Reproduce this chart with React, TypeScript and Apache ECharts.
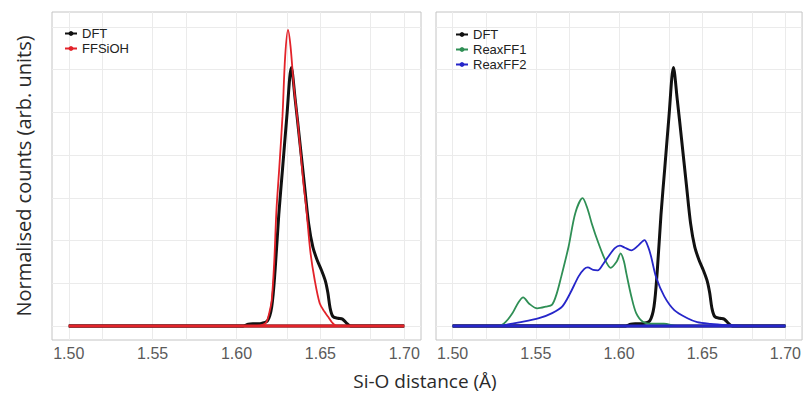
import React, { useEffect, useRef } from 'react';
import * as echarts from 'echarts';

const xTickLabels = [1.5, 1.55, 1.6, 1.65, 1.7];
const xGridLines = [1.5, 1.525, 1.55, 1.575, 1.6, 1.625, 1.65, 1.675, 1.7];
const yGridLines = [0, 1, 2, 3, 4, 5, 6, 7];

const dftData: [number, number][] = [
  [1.5, 0], [1.604, 0], [1.607, 0.04], [1.611, 0.05], [1.615, 0.06], [1.6185, 0.12],
  [1.621, 0.45], [1.623, 1.3], [1.6252, 2.6], [1.6275, 3.7], [1.63, 4.9], [1.6327, 6.05],
  [1.635, 5.3], [1.6375, 4.4], [1.6405, 3.3], [1.643, 2.4], [1.6455, 1.85], [1.648, 1.55],
  [1.6506, 1.31], [1.653, 1.05], [1.6545, 0.77], [1.6558, 0.42], [1.6575, 0.22],
  [1.6605, 0.18], [1.6632, 0.16], [1.6655, 0.07], [1.668, 0], [1.7, 0],
];

const ffsiohData: [number, number][] = [
  [1.5, 0], [1.612, 0], [1.616, 0.03], [1.618, 0.1], [1.6198, 0.35], [1.621, 0.6],
  [1.6225, 1.5], [1.6238, 2.7], [1.6255, 3.7], [1.6274, 4.9], [1.629, 6.3], [1.6307, 6.93],
  [1.6322, 6.55], [1.6342, 5.6], [1.6367, 4.7], [1.6397, 3.42], [1.6416, 2.75], [1.644, 1.75],
  [1.6466, 1.08], [1.6496, 0.53], [1.6525, 0.33], [1.6545, 0.22], [1.657, 0.08],
  [1.6595, 0], [1.7, 0],
];

const reaxff1Data: [number, number][] = [
  [1.5, 0], [1.528, 0], [1.532, 0.1], [1.536, 0.3], [1.5395, 0.55], [1.5424, 0.67],
  [1.546, 0.52], [1.5509, 0.41], [1.556, 0.45], [1.5598, 0.5], [1.5625, 0.75], [1.5648, 1.08],
  [1.5697, 1.86], [1.5737, 2.64], [1.5781, 2.99], [1.581, 2.75], [1.5836, 2.4], [1.5876, 1.94],
  [1.5916, 1.55], [1.595, 1.36], [1.5985, 1.5], [1.601, 1.7], [1.603, 1.5], [1.6044, 1.23],
  [1.6074, 0.69], [1.6103, 0.3], [1.6143, 0.1], [1.62, 0.05], [1.627, 0.05], [1.635, 0],
  [1.7, 0],
];

const reaxff2Data: [number, number][] = [
  [1.5, 0], [1.528, 0], [1.534, 0.04], [1.54, 0.08], [1.5519, 0.18], [1.5598, 0.3],
  [1.5658, 0.45], [1.5707, 0.77], [1.5757, 1.16], [1.579, 1.33], [1.5812, 1.37],
  [1.5845, 1.31], [1.5872, 1.3], [1.5905, 1.45], [1.5935, 1.62], [1.5975, 1.82],
  [1.6005, 1.88], [1.6035, 1.83], [1.6074, 1.77], [1.6115, 1.88], [1.6153, 2.01],
  [1.6175, 1.85], [1.6193, 1.62], [1.6222, 1.15], [1.6272, 0.69], [1.6332, 0.37],
  [1.6411, 0.18], [1.647, 0.09], [1.655, 0.05], [1.665, 0.02], [1.675, 0], [1.7, 0],
];

const COLORS = { dft: '#111111', ffsioh: '#e3232a', reax1: '#2f8f55', reax2: '#2626c9' };

export default function App() {
  const ref = useRef<HTMLDivElement>(null);
  useEffect(() => {
    if (!ref.current) return;
    const chart = echarts.init(ref.current, undefined, { renderer: 'svg' });

    const xAxisBase = (gridIndex: number) => ({
      type: 'value',
      gridIndex,
      min: 1.49,
      max: 1.71,
      axisLine: { show: false },
      axisTick: { show: true, customValues: xTickLabels, length: 4, lineStyle: { color: '#999' } },
      axisLabel: {
        customValues: xTickLabels,
        formatter: (v: number) => v.toFixed(2),
        fontSize: 16,
        color: '#5a5a5a',
        margin: 5,
        fontFamily: 'Liberation Sans, Arial, sans-serif',
      },
      splitLine: { show: false },
    });
    const yAxisBase = (gridIndex: number) => ({
      type: 'value',
      gridIndex,
      min: -0.33,
      max: 7.35,
      axisLine: { show: false },
      axisTick: { show: false },
      axisLabel: { show: false },
      splitLine: { show: false },
    });

    const gridSeries = (idx: number) => ({
      type: 'line',
      name: '_grid' + idx,
      xAxisIndex: idx,
      yAxisIndex: idx,
      data: [],
      silent: true,
      z: 1,
      markLine: {
        silent: true,
        z: 1,
        zlevel: 0,
        symbol: ['none', 'none'],
        label: { show: false },
        lineStyle: { color: '#ebebeb', width: 1, type: 'solid' },
        emphasis: { disabled: true },
        data: [
          ...xGridLines.map((v) => ({ xAxis: v })),
          ...yGridLines.map((v) => ({ yAxis: v })),
        ],
      },
    });

    const lineSeries = (name: string, data: [number, number][], color: string, width: number, idx: number, z: number) => ({
      type: 'line',
      name,
      data,
      xAxisIndex: idx,
      yAxisIndex: idx,
      smooth: 0.3,
      symbol: 'circle',
      symbolSize: 4,
      showSymbol: false,
      z,
      lineStyle: { color, width },
      itemStyle: { color },
    });

    // closing baseline of each density outline (from the first to the last x of its data)
    const baseSeries = (name: string, data: [number, number][], color: string, width: number, idx: number, z: number) => ({
      type: 'line',
      name: name + ' baseline',
      data: [[data[0][0], 0], [data[data.length - 1][0], 0]],
      xAxisIndex: idx,
      yAxisIndex: idx,
      symbol: 'none',
      silent: true,
      z,
      lineStyle: { color, width },
    });

    const legendBase = {
      orient: 'vertical',
      itemWidth: 12,
      itemHeight: 6,
      itemGap: 0,
      padding: 0,
      textStyle: { fontSize: 13, lineHeight: 15, color: '#222', fontFamily: 'Liberation Sans, Arial, sans-serif' },
    };

    chart.setOption({
      animation: false,
      backgroundColor: '#ffffff',
      grid: [
        { left: 52, top: 12, width: 369, height: 328, show: true, borderColor: '#c4c4c4', borderWidth: 1, backgroundColor: '#fff' },
        { left: 436, top: 12, width: 369, height: 328, show: true, borderColor: '#c4c4c4', borderWidth: 1, backgroundColor: '#fff' },
      ],
      xAxis: [xAxisBase(0), xAxisBase(1)],
      yAxis: [
        {
          ...yAxisBase(0),
          name: 'Normalised counts (arb. units)',
          nameLocation: 'middle',
          nameRotate: 90,
          nameGap: 19,
          nameTextStyle: { fontSize: 20, color: '#2a2a2a', fontFamily: 'Open Sans, sans-serif' },
        },
        yAxisBase(1),
      ],
      legend: [
        { ...legendBase, data: ['DFT', 'FFSiOH'], left: 64, top: 26 },
        { ...legendBase, data: ['DFT', 'ReaxFF1', 'ReaxFF2'], left: 455, top: 27 },
      ],
      graphic: [
        {
          type: 'text',
          x: 425,
          y: 381,
          style: {
            text: 'Si-O distance (Å)',
            fontSize: 19,
            fill: '#2a2a2a',
            fontFamily: 'Open Sans, sans-serif',
            align: 'center',
            verticalAlign: 'middle',
          },
        },
      ],
      series: [
        gridSeries(0),
        gridSeries(1),
        lineSeries('DFT', dftData, COLORS.dft, 3, 0, 3),
        baseSeries('DFT', dftData, COLORS.dft, 3, 0, 3),
        lineSeries('FFSiOH', ffsiohData, COLORS.ffsioh, 1.8, 0, 4),
        baseSeries('FFSiOH', ffsiohData, COLORS.ffsioh, 3, 0, 4),
        lineSeries('DFT', dftData, COLORS.dft, 3, 1, 3),
        baseSeries('DFT', dftData, COLORS.dft, 3, 1, 3),
        lineSeries('ReaxFF1', reaxff1Data, COLORS.reax1, 1.8, 1, 4),
        baseSeries('ReaxFF1', reaxff1Data, COLORS.reax1, 1.8, 1, 4),
        lineSeries('ReaxFF2', reaxff2Data, COLORS.reax2, 1.8, 1, 5),
        baseSeries('ReaxFF2', reaxff2Data, COLORS.reax2, 3, 1, 5),
      ],
    });
    return () => chart.dispose();
  }, []);
  return <div ref={ref} style={{ position: 'absolute', left: 0, top: 0, width: 804, height: 393 }} />;
}
